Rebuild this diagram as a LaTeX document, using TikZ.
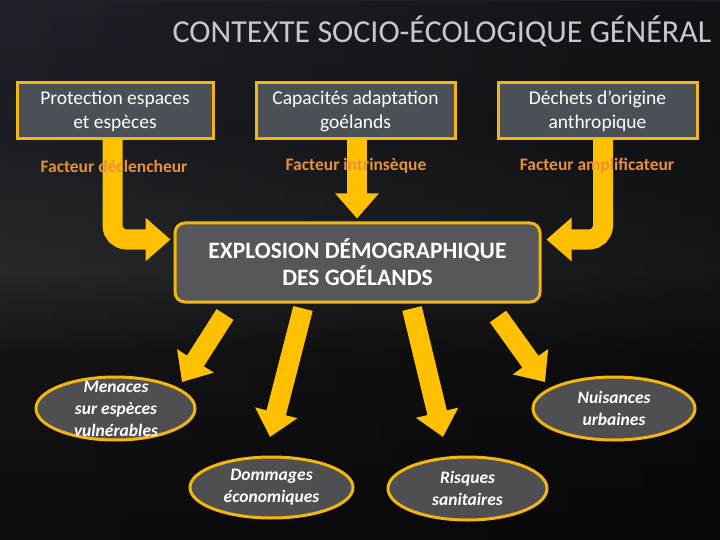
\documentclass[tikz,border=0pt]{standalone}
\usepackage{fontspec}
\setmainfont{Carlito}
\usetikzlibrary{arrows.meta,calc,shapes.geometric,fadings}
\definecolor{gold}{HTML}{FFC000}
\definecolor{framegold}{HTML}{F2B60F}
\definecolor{boxfill}{HTML}{4B4F56}
\definecolor{centerfill}{HTML}{5A5B5F}
\definecolor{ellfill}{HTML}{4F4F51}
\definecolor{orangelbl}{HTML}{E8913A}
\definecolor{titlegray}{HTML}{C5C8CC}
\definecolor{bgA}{HTML}{080808}
\definecolor{bgB}{HTML}{0D0D0E}
\definecolor{bgC}{HTML}{141416}
\definecolor{bgD}{HTML}{27282B}
\definecolor{bgE}{HTML}{1A1D22}
\definecolor{bgF}{HTML}{1F2329}
\definecolor{bgG}{HTML}{2C3038}
\pgfdeclareverticalshading{bgshade}{100bp}{color(0bp)=(bgA); color(26bp)=(bgB); color(42bp)=(bgC); color(50bp)=(bgD); color(63bp)=(bgE); color(78bp)=(bgF); color(100bp)=(bgG)}
\tikzset{
  topbox/.style={draw=framegold, line width=3pt, fill=boxfill, minimum width=196pt, minimum height=56pt, inner sep=0pt, align=center, text=white, font=\fontsize{19.5}{24}\selectfont},
  factlbl/.style={text=orangelbl, font=\bfseries\fontsize{17.5}{20}\selectfont},
  bigarrow/.style={draw=gold, line width=20pt, -{Triangle[width=42pt,length=25pt]}},
  ellbox/.style={ellipse, draw=framegold, line width=3pt, fill=ellfill, inner sep=0pt},
  elltext/.style={align=center, text=white, font=\bfseries\itshape\fontsize{17.5}{22}\selectfont}
}
\begin{document}
\begin{tikzpicture}[x=1pt,y=-1pt]
\useasboundingbox (0,0) rectangle (720,540);
\shade[shading=bgshade] (0,0) rectangle (720,540);
\fill[black, opacity=0.45, path fading=west] (0,0) rectangle (720,540);
% title
\node[anchor=base, text=titlegray, font=\fontsize{32}{36}\selectfont, inner sep=0pt] (title) at (442,43) {CONTEXTE SOCIO-ÉCOLOGIQUE GÉNÉRAL};
% top boxes
\node[topbox] (b1) at (115,111) {Protection espaces\\et espèces};
\node[topbox, minimum width=199pt] (b2) at (355.5,111) {Capacités adaptation\\goélands};
\node[topbox, minimum width=199pt] (b3) at (597.5,111) {Déchets d’origine\\anthropique};
% central box
\node[draw=framegold, line width=3pt, fill=centerfill, fill opacity=0.95, text opacity=1, rounded corners=10pt, minimum width=365pt, minimum height=79pt, align=center, text=white, font=\bfseries\fontsize{23.5}{27}\selectfont] (expl) at (357.5,262.5) {EXPLOSION DÉMOGRAPHIQUE\\DES GOÉLANDS};
% top arrows
\draw[bigarrow, rounded corners=14pt] ($(b1.south)+(-2.5,-2)$) |- ($(expl.west)+(-3,-23)$);
\draw[bigarrow] ($(b2.south)+(1.5,-2)$) -- ($(b2.south |- expl.north)+(1.5,-3)$);
\draw[bigarrow, rounded corners=14pt] ($(b3.south)+(5.5,-2)$) |- ($(expl.east)+(5,-23)$);
% factor labels
\node[factlbl] (f1) at (114,166) {Facteur déclencheur};
\node[factlbl] (f2) at (356,166) {Facteur intrinsèque};
\node[factlbl] (f3) at (597,166) {Facteur amplificateur};
% ellipses
\node[ellbox, minimum width=159pt, minimum height=63pt] (men) at (115.5,408.5) {};
\node[ellbox, minimum width=163pt, minimum height=61pt] (dom) at (271.5,487.5) {};
\node[ellbox, minimum width=159pt, minimum height=63pt] (ris) at (467.5,488.5) {};
\node[ellbox, minimum width=162pt, minimum height=63pt] (nui) at (614,408.5) {};
\node[elltext] (tmen) at ($(men.center)+(0.5,0.5)$) {Menaces\\sur espèces\\vulnérables};
\node[elltext] (tdom) at (dom.center) {Dommages\\économiques};
\node[elltext] (tris) at (ris.center) {Risques\\sanitaires};
\node[elltext] (tnui) at (nui.center) {Nuisances\\urbaines};
% bottom arrows
\draw[bigarrow] ($(expl.south)+(-132.5,11)$) -- ($(men.center)+(66.5,-26.5)$);
\draw[bigarrow] ($(expl.south)+(-54.5,5)$) -- ($(dom.center)+(-1.5,-50.5)$);
\draw[bigarrow] ($(expl.south)+(54.5,5)$) -- ($(ris.center)+(-24.5,-51.5)$);
\draw[bigarrow] ($(expl.south)+(140.5,13)$) -- ($(nui.center)+(-69,-26.5)$);
\end{tikzpicture}
\end{document}
